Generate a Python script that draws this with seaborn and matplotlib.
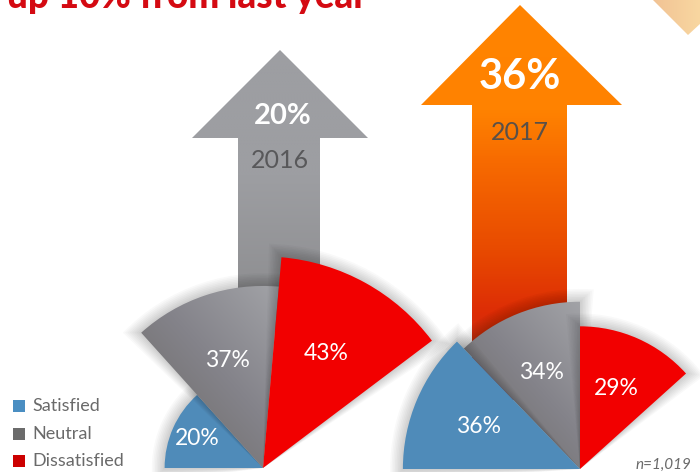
import numpy as np
import matplotlib
matplotlib.use("Agg")
import matplotlib.pyplot as plt
import seaborn as sns
import pandas as pd
from matplotlib.patches import Wedge, Polygon
from matplotlib.colors import LinearSegmentedColormap

# ---------------- data ----------------
categories = ["Satisfied", "Neutral", "Dissatisfied"]
years = ["2016", "2017"]
values_2016 = [20, 37, 43]
values_2017 = [36, 34, 29]
headline_values = [20, 36]
title_text = "up 10% from last year"
sample_note = "n=1,019"

# ---------------- setup ----------------
W, H = 700, 472
sns.set_theme(style="white")
plt.rcParams['font.family'] = ['Lato', 'DejaVu Sans']

fig = plt.figure(figsize=(7, 4.72), dpi=100)
ax = fig.add_axes([0, 0, 1, 1])
ax.set_xlim(0, W)
ax.set_ylim(0, H)
ax.set_autoscale_on(False)
ax.axis('off')


def Y(yp):
    return H - yp


def grad_fill(patch, stops, direction, zorder):
    """fill patch with a linear gradient along direction"""
    patch.set_facecolor('none')
    patch.set_edgecolor('none')
    ax.add_patch(patch)
    verts = patch.get_path().transformed(patch.get_patch_transform()).vertices \
        if not isinstance(patch, Polygon) else patch.get_xy()
    x0, x1 = verts[:, 0].min() - 2, verts[:, 0].max() + 2
    y0, y1 = verts[:, 1].min() - 2, verts[:, 1].max() + 2
    n = 300
    X, Yg = np.meshgrid(np.linspace(x0, x1, n), np.linspace(y0, y1, n))
    dx, dy = direction
    t = X * dx + Yg * dy
    t = (t - t.min()) / (t.max() - t.min())
    cmap = LinearSegmentedColormap.from_list("g", stops)
    im = ax.imshow(t, extent=(x0, x1, y0, y1), origin='lower', cmap=cmap,
                   zorder=zorder, aspect='auto', interpolation='bilinear',
                   vmin=0, vmax=1)
    im.set_clip_path(patch)
    return im


# ---------------- decorative corner triangle ----------------
tri = Polygon([(653, Y(0)), (726, Y(0)), (688, Y(35))], closed=True)
grad_fill(tri, [(0, '#f1c294'), (1, '#fde3a8')], (1, 0), zorder=1)

# ---------------- title (cut by the top edge, as in the original) ----------------
ax.text(7, Y(8), title_text, color='#d40a12', fontsize=26.5, fontweight='black',
        ha='left', va='baseline', zorder=10)

# ---------------- arrows ----------------
arrows = [
    dict(shaft=(238, 320), base=138, head=(192, 368), apex=(280, 50), bottom=330,
         stops=[(0, '#9d9ea2'), (0.45, '#9d9ea2'), (1, '#8a8a8c')]),
    dict(shaft=(472, 567), base=105, head=(421, 622), apex=(520, 5), bottom=400,
         stops=[(0, '#ff8400'), (0.27, '#ff8200'), (0.4, '#f76a00'),
                (0.62, '#e84a00'), (0.78, '#dd2c06'), (1, '#a83828')]),
]
for a in arrows:
    sl, sr = a['shaft']
    hl, hr = a['head']
    pts = [(sl, Y(a['bottom'])), (sl, Y(a['base'])), (hl, Y(a['base'])),
           (a['apex'][0], Y(a['apex'][1])), (hr, Y(a['base'])),
           (sr, Y(a['base'])), (sr, Y(a['bottom']))]
    grad_fill(Polygon(pts, closed=True), a['stops'], (0, -1), zorder=1)

# headline numbers and years on arrows
ax.text(283, Y(116), f"{headline_values[0]}%", color='white', fontsize=21,
        fontweight='bold', ha='center', va='center', zorder=5)
ax.text(280, Y(161), years[0], color='#58585a', fontsize=18,
        ha='center', va='center', zorder=5)
ax.text(520, Y(77), f"{headline_values[1]}%", color='white', fontsize=30,
        fontweight='bold', ha='center', va='center', zorder=5)
ax.text(520, Y(132), years[1], color='#5a5048', fontsize=18,
        ha='center', va='center', zorder=5)

# ---------------- rose (half-pie) charts ----------------
K = 4.92  # pixels per percentage point of radius
charts = [
    dict(values=values_2016, center=(263, Y(468)), bounds=[180, 132, 85, 37],
         order=[0, 1, 2]),
    dict(values=values_2017, center=(580, Y(469)), bounds=[180, 134, 90, 42],
         order=[1, 2, 0]),
]
flat_colors = {"Satisfied": '#4f8bb9', "Dissatisfied": '#f20000'}
neutral_stops = [(0, '#686560'), (0.55, '#84838a'), (1, '#a3a4a8')]

z = 3
for ch in charts:
    cx, cy = ch['center']
    for idx in ch['order']:
        cat = categories[idx]
        v = ch['values'][idx]
        r = v * K
        a2, a1 = ch['bounds'][idx], ch['bounds'][idx + 1]
        # soft shadow
        for i in range(1, 9):
            e = 1.6 * i
            d = np.degrees(e / r)
            ax.add_patch(Wedge((cx, cy), r + e, a1 - d, a2 + d,
                               facecolor='black', edgecolor='none',
                               alpha=0.022, zorder=z))
        z += 1
        w = Wedge((cx, cy), r, a1, a2)
        if cat == "Neutral":
            grad_fill(w, neutral_stops, (0.75, 0.66), zorder=z)
        else:
            w.set_facecolor(flat_colors[cat])
            w.set_edgecolor('none')
            w.set_zorder(z)
            ax.add_patch(w)
        z += 1
        # label
        mid = np.radians((a1 + a2) / 2)
        lr = max(0.62 * r, 72)
        ax.text(cx + lr * np.cos(mid), cy + lr * np.sin(mid), f"{v}%",
                color='white', fontsize=16.5, ha='center', va='center',
                zorder=40)

# ---------------- legend ----------------
legend_colors = ['#4a8ec2', '#6b6b6b', '#cc0000']
leg = pd.DataFrame({"x": [19] * 3, "y": [Y(406), Y(434), Y(461)],
                    "cat": categories})
sns.scatterplot(data=leg, x="x", y="y", hue="cat", palette=legend_colors,
                marker='s', s=78, linewidth=0, legend=False, ax=ax, zorder=50)
for yy, c in zip(leg["y"], categories):
    ax.text(32, yy, c, color='#6a6a6a', fontsize=13, ha='left',
            va='center', zorder=50)
ax.set_xlim(0, W)
ax.set_ylim(0, H)
ax.axis('off')

# ---------------- sample size ----------------
ax.text(691, Y(465), sample_note, color='#6a6a6a', fontsize=11,
        fontstyle='italic', ha='right', va='center', zorder=50)

fig.savefig("out.png", dpi=100, facecolor='white')
